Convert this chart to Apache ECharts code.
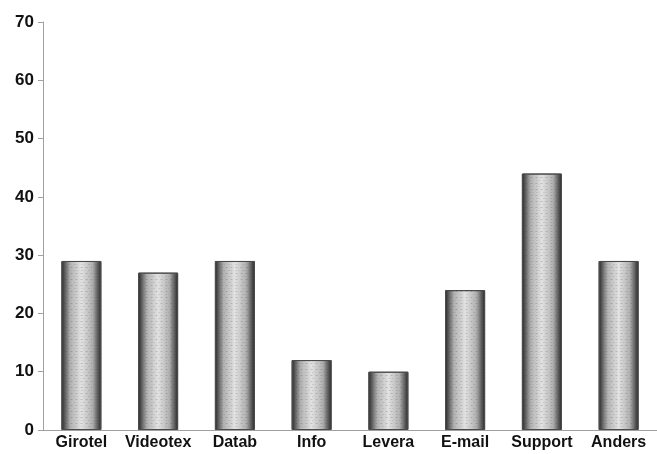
<!DOCTYPE html>
<html>
<head>
<meta charset="utf-8">
<script src="https://cdn.jsdelivr.net/npm/echarts@6/dist/echarts.min.js"></script>
<style>
  html, body { margin: 0; padding: 0; background: #fff; }
  #chart { width: 657px; height: 454px; }
</style>
</head>
<body>
<div id="chart"></div>
<script>
const categories = ['Girotel', 'Videotex', 'Datab', 'Info', 'Levera', 'E-mail', 'Support', 'Anders'];
const values = [29, 27, 29, 12, 10, 24, 44, 29];
const yTicks = { min: 0, max: 70, interval: 10 };

// cylinder-like shading across each bar: dark rims, pale middle
const barFill = new echarts.graphic.LinearGradient(0, 0, 1, 0, [
  { offset: 0, color: '#242424' },
  { offset: 0.08, color: '#585858' },
  { offset: 0.22, color: '#b0b0b0' },
  { offset: 0.5, color: '#e2e2e2' },
  { offset: 0.78, color: '#b0b0b0' },
  { offset: 0.92, color: '#585858' },
  { offset: 1, color: '#242424' }
]);

const chart = echarts.init(document.getElementById('chart'), null, { renderer: 'canvas' });
chart.setOption({
  animation: false,
  backgroundColor: '#fff',
  grid: { left: 43, right: 0, top: 22, bottom: 24, containLabel: false },
  xAxis: {
    type: 'category',
    data: categories,
    axisLine: { lineStyle: { color: '#a0a0a0', width: 1 } },
    axisTick: { alignWithLabel: true, length: 4, lineStyle: { color: '#a0a0a0' } },
    axisLabel: {
      interval: 0,
      color: '#111', fontFamily: 'Liberation Sans, Arial, sans-serif',
      fontWeight: 'bold', fontSize: 16, margin: 5
    }
  },
  yAxis: {
    type: 'value',
    min: yTicks.min, max: yTicks.max, interval: yTicks.interval,
    axisLine: { show: true, lineStyle: { color: '#a0a0a0', width: 1 } },
    axisTick: { show: true, length: 5, lineStyle: { color: '#a0a0a0' } },
    splitLine: { show: false },
    axisLabel: {
      color: '#111', fontFamily: 'Liberation Sans, Arial, sans-serif',
      fontWeight: 'bold', fontSize: 17, margin: 9
    }
  },
  series: [{
    type: 'bar',
    data: values,
    barWidth: 40,
    itemStyle: {
      color: barFill,
      borderColor: '#4a4a4a',
      borderWidth: 1,
      // fine speckle over the shading
      decal: {
        symbol: 'rect',
        symbolSize: 0.6,
        color: 'rgba(70,70,70,0.4)',
        dashArrayX: [[3, 2], [1, 3, 2, 1]],
        dashArrayY: [1, 2],
        rotation: 0
      }
    }
  }]
});
</script>
</body>
</html>
